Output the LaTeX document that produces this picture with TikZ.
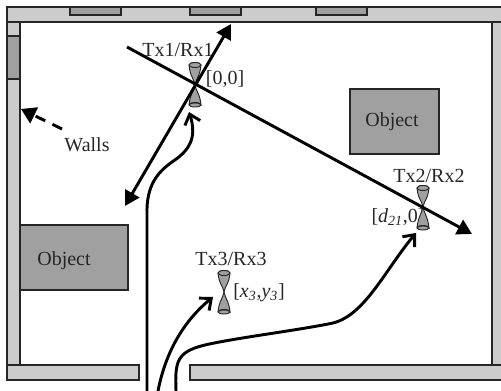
\documentclass[tikz,border=0pt]{standalone}
\usepackage{fontspec}
\setmainfont{Liberation Serif}
\usetikzlibrary{arrows.meta, calc}
\definecolor{wallc}{RGB}{204,204,204}
\definecolor{objc}{RGB}{160,160,160}
\tikzset{
  wall/.style={draw=black!85, line width=0.9pt, fill=wallc},
  objbox/.style={draw=black!85, line width=0.9pt, fill=objc},
  lbl/.style={inner sep=0pt, font=\fontsize{15}{17}\selectfont, text=black!85},
  axis/.style={line width=2.2pt, -{Triangle[length=11pt,width=12pt]}},
  axisb/.style={line width=2.2pt, {Triangle[length=11pt,width=12pt]}-{Triangle[length=11pt,width=12pt]}},
  sig/.style={line width=2.2pt, -{Straight Barb[length=7pt,width=12pt,line width=2.2pt]}, line cap=round},
  wallarrow/.style={line width=2.2pt, dash pattern=on 8pt off 6pt, -{Triangle[length=11pt,width=13pt]}},
  cone/.style={draw=black!85, line width=0.7pt, fill=objc},
}
% one antenna: #1 = x, #2 = y top, #3 = y waist, #4 = y bottom
\newcommand{\antenna}[4]{
  \draw[cone] (#1-6,#2) .. controls (#1-5,#2+11) and (#1-1,#3-6) .. (#1,#3)
    .. controls (#1+1,#3-6) and (#1+5,#2+11) .. (#1+6,#2)
    arc[start angle=0, end angle=-180, x radius=6, y radius=2.5];
  \draw[cone] (#1,#2) ellipse[x radius=6, y radius=2.5];
  \draw[cone] (#1-6,#4) .. controls (#1-5,#4-11) and (#1-1,#3+6) .. (#1,#3)
    .. controls (#1+1,#3+6) and (#1+5,#4-11) .. (#1+6,#4)
    arc[start angle=0, end angle=-180, x radius=6, y radius=2.5];
  \draw[cone] (#1,#4) ellipse[x radius=6, y radius=2];
}

\begin{document}
\begin{tikzpicture}[x=0.75pt, y=-0.75pt]
  \useasboundingbox (0,0) rectangle (501,391);
  \clip (0,0) rectangle (501,391);
  % walls
  \draw[wall] (7,7) rectangle (20,365);
  \draw[wall] (7,7) rectangle (510,22);
  \draw[wall] (492,22) rectangle (510,365);
  \draw[wall] (7,365) rectangle (139,380);
  \draw[wall] (190,365) rectangle (510,380);
  % windows
  \foreach \wx in {70,190,316}
    \draw[objbox] (\wx,7) rectangle (\wx+51,15);
  \draw[objbox] (7,36) rectangle (20,79);
  % objects
  \draw[objbox] (350,89) rectangle (439,154);
  \draw[objbox] (20,225) rectangle (128,290);
  \node[lbl] (obja) at (392,122) {Object};
  \node[lbl] (objb) at (64,261) {Object};
  \node[lbl] (walls) at (87,145) {Walls};
  \node[lbl] (lbla) at (178,50) {Tx1/Rx1};
  \node[lbl] (lblb) at (429,176) {Tx2/Rx2};
  \node[lbl] (lblc) at (231,259) {Tx3/Rx3};
  \node[lbl] (posa) at (225,79) {[0,0]};
  \node[lbl] (posb) at (398,217) {[\textit{d\textsubscript{21}},0]};
  \node[lbl] (posc) at (259,293) {[\textit{x\textsubscript{3}},\textit{y\textsubscript{3}}]};
  % antennas
  \antenna{195}{65}{85}{105}
  \antenna{423}{188}{207}{228}
  \antenna{224}{273}{292}{312}
  % end points
  \coordinate (linea) at (127,47);
  \coordinate (lineb) at (472,234);
  \coordinate (dbla) at (231,24);
  \coordinate (dblb) at (125,206);
  \coordinate (gapa) at (147,391);
  \coordinate (gapb) at (158,391);
  \coordinate (gapc) at (176,391);
  \coordinate (rxa) at (189,112);
  \coordinate (rxb) at (416,233);
  \coordinate (rxc) at (213,297);
  \coordinate (wallend) at (21,109);
  \draw[axis] (linea) -- (lineb);
  \draw[axisb] (dblb) -- (dbla);
  \draw[wallarrow] (62,129) -- (wallend);
  \draw[sig] (gapa) -- (147,215) .. controls (146,185) and (158,172) .. (172,162)
    .. controls (187,152) and (198,140) .. (rxa);
  \draw[sig] (gapb) .. controls (166,350) and (185,320) .. (rxc);
  \draw[sig] (gapc) .. controls (175,362) and (176,352) .. (205,345)
    .. controls (235,338) and (300,330) .. (333,323)
    .. controls (365,315) and (385,270) .. (rxb);
\end{tikzpicture}
\end{document}
